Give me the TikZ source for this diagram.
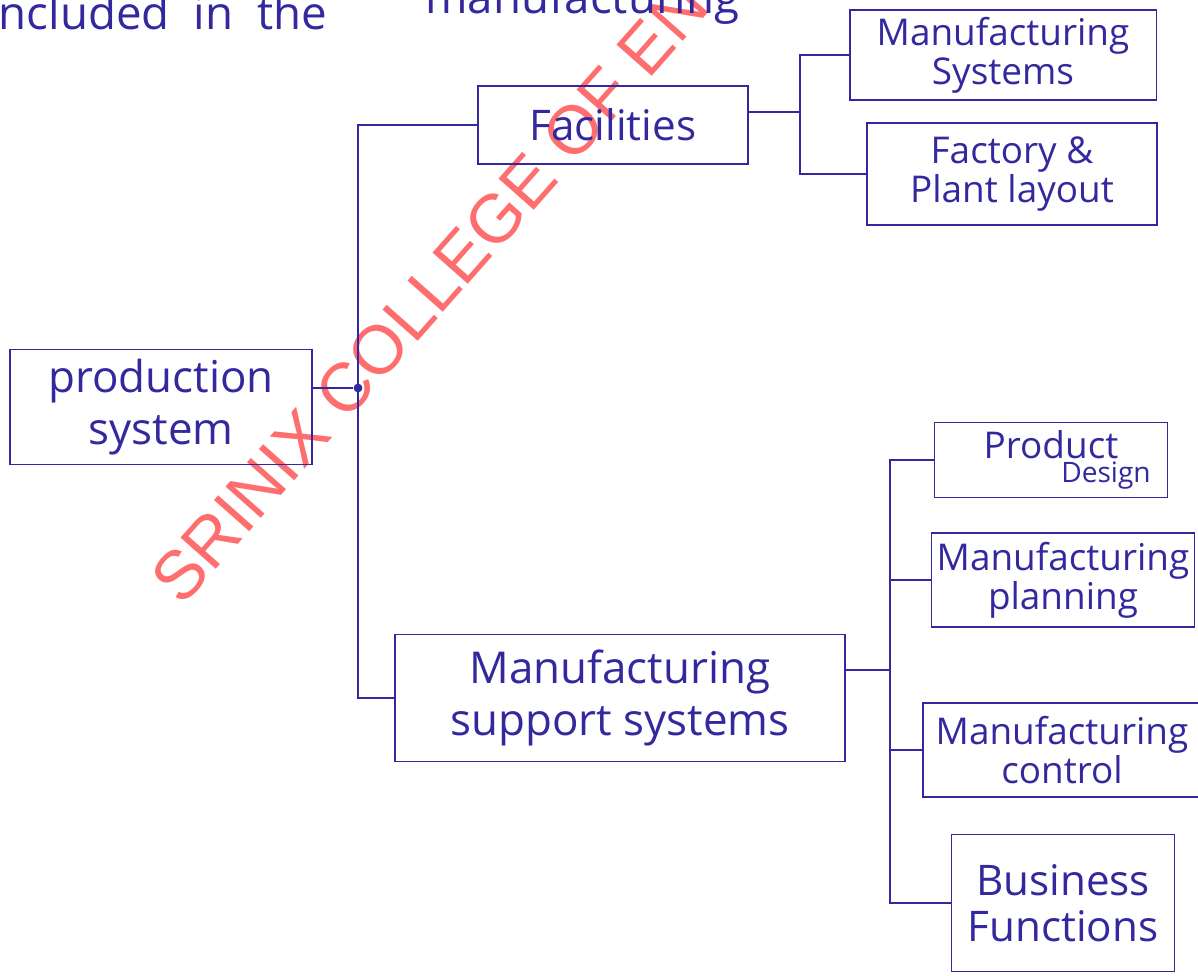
\documentclass[tikz,border=0pt]{standalone}
\usepackage{fontspec}
\setmainfont{Open Sans}
\newfontfamily\wmfont{Liberation Sans}
\usetikzlibrary{calc}
\definecolor{ink}{RGB}{52,40,158}
\definecolor{wmred}{RGB}{255,110,110}

\begin{document}
\begin{tikzpicture}[
    x=0.02cm, y=-0.02cm,
    box/.style={draw=ink, line width=1.1pt, text=ink, align=center, inner sep=2pt},
    big/.style={box, font=\fontsize{25}{30}\selectfont},
    mid/.style={box, font=\fontsize{21}{22}\selectfont},
    link/.style={draw=ink, line width=1.1pt},
    jdot/.style={circle, fill=ink, inner sep=0pt, minimum size=5pt},
    headtext/.style={font=\fontsize{26}{26}\selectfont, text=ink, anchor=base west, inner sep=0pt},
]
\useasboundingbox (0,0) rectangle (1198,976);

    %==================== watermark + heading line ====================
    \node[font=\wmfont\fontsize{39}{39}\selectfont, text=wmred, anchor=base west,
          rotate=48.5, inner sep=0pt] (wm) at (182,608) {SRINIX COLLEGE OF ENGINEERING};
    \node[headtext] (head) at (-13,30) {included\ \ in\ \ the};
    \node[headtext] (head2) at (425,14) {manufacturing};

    %==================== root ====================
    \node[big, minimum width=6.04cm, minimum height=2.3cm] (prod) at (161,407)
        {production\\ system};

    %==================== level 1 ====================
    \node[mid, font=\fontsize{24}{24}\selectfont, minimum width=5.4cm, minimum height=1.56cm]
        (fac) at (613,125) {Facilities};
    \node[big, minimum width=9cm, minimum height=2.54cm] (mss) at (620,698)
        {Manufacturing\\ support systems};

    % trunk
    \node[jdot] (jp) at (358,388) {};
    \draw[link] (prod.east |- jp) -- (jp);
    \coordinate (ft) at (358,128);
    \draw[link] (fac.west) -- (fac.west -| ft) |- (mss.west);

    %==================== facilities branch ====================
    \node[mid, minimum width=6.14cm, minimum height=1.8cm] (mfgsys) at (1003,55)
        {Manufacturing\\ Systems};
    \node[mid, minimum width=5.8cm, minimum height=2.04cm] (layout) at (1012,174)
        {Factory \&\\ Plant layout};

    \coordinate (fj) at (800,112);
    \draw[link] ($(fac.east)+(0,-13)$) -- (fj);
    \draw[link] (mfgsys.west) -| (fj) |- (layout.west);

    %==================== support systems branch ====================
    \node[mid, minimum width=4.66cm, minimum height=1.5cm] (design) at (1051,460)
        {Product\\[-8pt] \hspace*{2.2cm}{\fontsize{16}{16}\selectfont Design}};
    \node[mid, minimum width=5.26cm, minimum height=1.88cm] (planning) at (1063,580)
        {Manufacturing\\ planning};
    \node[mid, minimum width=5.56cm, minimum height=1.88cm] (control) at (1062,750)
        {Manufacturing\\ control};
    \node[mid, font=\fontsize{24}{26}\selectfont, minimum width=4.46cm, minimum height=2.74cm]
        (business) at (1063,903) {Business\\ Functions};

    \coordinate (mj) at (890,670);
    \draw[link] (mss.east |- mj) -- (mj);
    \draw[link] (design.west) -| (mj) |- (business.west);
    \draw[link] (planning.west) -- (planning.west -| mj);
    \draw[link] (control.west) -- (control.west -| mj);

\end{tikzpicture}
\end{document}
